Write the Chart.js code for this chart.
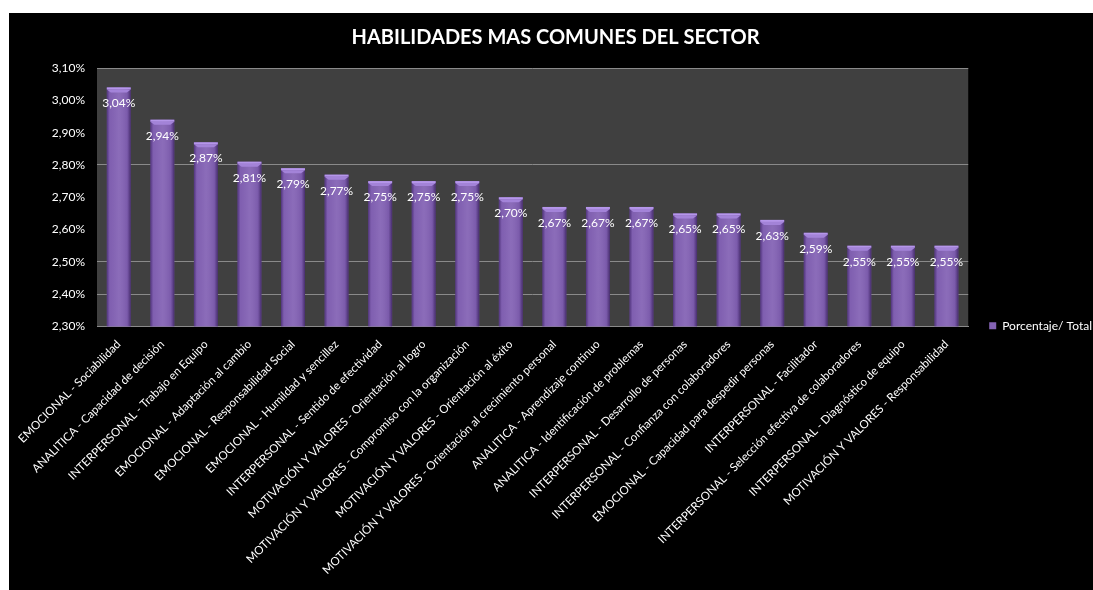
<!DOCTYPE html>
<html lang="es">
<head>
<meta charset="utf-8">
<title>Habilidades mas comunes del sector</title>
<script src="https://cdn.jsdelivr.net/npm/chart.js@4.4.1/dist/chart.umd.min.js"></script>
<style>
  html, body { margin: 0; background: #fff; }
  #wrap {
    position: absolute;
    left: 9px; top: 13px;
    width: 1084px; height: 577px;
    background: #000;
  }
</style>
</head>
<body>
<div id="wrap"><canvas id="skillsChart" width="1084" height="577"></canvas></div>
<script>
const categories = [
  'EMOCIONAL - Sociabilidad',
  'ANALITICA - Capacidad de decisión',
  'INTERPERSONAL - Trabajo en Equipo',
  'EMOCIONAL - Adaptación al cambio',
  'EMOCIONAL - Responsabilidad Social',
  'EMOCIONAL - Humildad y sencillez',
  'INTERPERSONAL - Sentido de efectividad',
  'MOTIVACIÓN Y VALORES - Orientación al logro',
  'MOTIVACIÓN Y VALORES - Compromiso con la organización',
  'MOTIVACIÓN Y VALORES - Orientación al éxito',
  'MOTIVACIÓN Y VALORES - Orientación al crecimiento personal',
  'ANALITICA - Aprendizaje continuo',
  'ANALITICA - Identificación de problemas',
  'INTERPERSONAL - Desarrollo de personas',
  'INTERPERSONAL - Confianza con colaboradores',
  'EMOCIONAL - Capacidad para despedir personas',
  'INTERPERSONAL - Facilitador',
  'INTERPERSONAL - Selección efectiva de colaboradores',
  'INTERPERSONAL - Diagnóstico de equipo',
  'MOTIVACIÓN Y VALORES - Responsabilidad'
];

// porcentaje sobre el total
const porcentajes = [3.04, 2.94, 2.87, 2.81, 2.79, 2.77, 2.75, 2.75, 2.75, 2.70,
                     2.67, 2.67, 2.67, 2.65, 2.65, 2.63, 2.59, 2.55, 2.55, 2.55];

const yTicks = [2.3, 2.4, 2.5, 2.6, 2.7, 2.8, 2.9, 3.0, 3.1];
// only these gridlines show on the plot
const visibleGrid = [2.4, 2.5, 2.8, 3.1];

const FONT = 'Lato, "Open Sans", sans-serif';
const fmt = v => v.toFixed(2).replace('.', ',') + '%';

// dark plot background
const plotBg = {
  id: 'plotBg',
  beforeDraw(chart) {
    const { ctx, chartArea: a } = chart;
    ctx.save();
    ctx.fillStyle = '#404040';
    ctx.fillRect(a.left, a.top, a.right - a.left, a.bottom - a.top);
    ctx.restore();
  }
};

// cylinder shading, top cap and value labels on each bar
const barLook = {
  id: 'barLook',
  afterDatasetsDraw(chart) {
    const { ctx, chartArea: a } = chart;
    const meta = chart.getDatasetMeta(0);
    meta.data.forEach((bar, i) => {
      const { x, y, width } = bar.getProps(['x', 'y', 'width'], true);
      const left = x - width / 2;
      const bottom = a.bottom;
      ctx.save();
      ctx.beginPath();
      ctx.rect(a.left, a.top, a.right - a.left, a.bottom - a.top);
      ctx.clip();

      const g = ctx.createLinearGradient(left, 0, left + width, 0);
      g.addColorStop(0, 'rgba(40,15,80,0.55)');
      g.addColorStop(0.12, 'rgba(40,15,80,0.05)');
      g.addColorStop(0.5, 'rgba(255,255,255,0.06)');
      g.addColorStop(0.85, 'rgba(40,15,80,0.1)');
      g.addColorStop(1, 'rgba(30,10,60,0.6)');
      ctx.fillStyle = g;
      ctx.fillRect(left, y, width, bottom - y);

      // bevelled top
      ctx.fillStyle = '#b596ea';
      ctx.fillRect(left, y, width, 2);
      ctx.fillStyle = '#a383d8';
      ctx.beginPath();
      ctx.moveTo(left, y + 2);
      ctx.lineTo(left + width, y + 2);
      ctx.lineTo(left + width - 4, y + 5);
      ctx.lineTo(left + 4, y + 5);
      ctx.closePath();
      ctx.fill();
      ctx.restore();

      ctx.save();
      ctx.fillStyle = '#ffffff';
      ctx.font = '12px ' + FONT;
      ctx.textAlign = 'center';
      ctx.textBaseline = 'middle';
      ctx.fillText(fmt(porcentajes[i]), x, y + 16);
      ctx.restore();
    });
  }
};

new Chart(document.getElementById('skillsChart'), {
  type: 'bar',
  data: {
    labels: categories,
    datasets: [{
      label: 'Porcentaje/ Total',
      data: porcentajes,
      backgroundColor: '#8463b5',
      borderWidth: 0,
      barPercentage: 0.55,
      categoryPercentage: 1
    }]
  },
  options: {
    responsive: false,
    animation: false,
    layout: { padding: { left: 0, right: -9, top: 0, bottom: 10 } },
    plugins: {
      title: {
        display: true,
        text: 'HABILIDADES MAS COMUNES DEL SECTOR',
        color: '#ffffff',
        font: { family: FONT, size: 20, weight: 'bold' },
        padding: { top: 13, bottom: 18 }
      },
      legend: {
        position: 'right',
        align: 'center',
        // empty title block pushes the single entry down toward the axis
        title: { display: true, text: '', padding: { top: 44, bottom: 0 } },
        labels: {
          color: '#ffffff',
          font: { family: FONT, size: 12 },
          boxWidth: 7,
          boxHeight: 7,
          padding: 21
        }
      },
      tooltip: { enabled: false }
    },
    scales: {
      y: {
        min: 2.3,
        max: 3.1,
        afterBuildTicks(scale) {
          scale.ticks = yTicks.map(v => ({ value: v }));
        },
        afterFit(scale) {
          scale.width = 88;
        },
        ticks: {
          color: '#ffffff',
          font: { family: FONT, size: 12 },
          padding: 12,
          callback: v => fmt(v)
        },
        grid: {
          drawTicks: false,
          color: c => visibleGrid.some(v => Math.abs(v - c.tick.value) < 1e-6) ? '#8a8a8a' : 'rgba(0,0,0,0)'
        },
        border: { display: false }
      },
      x: {
        ticks: {
          color: '#ffffff',
          font: { family: FONT, size: 11.5 },
          minRotation: 45,
          maxRotation: 45,
          autoSkip: false,
          padding: 3
        },
        grid: { display: false },
        border: { color: '#8a8a8a', width: 1 }
      }
    }
  },
  plugins: [plotBg, barLook]
});
</script>
</body>
</html>
